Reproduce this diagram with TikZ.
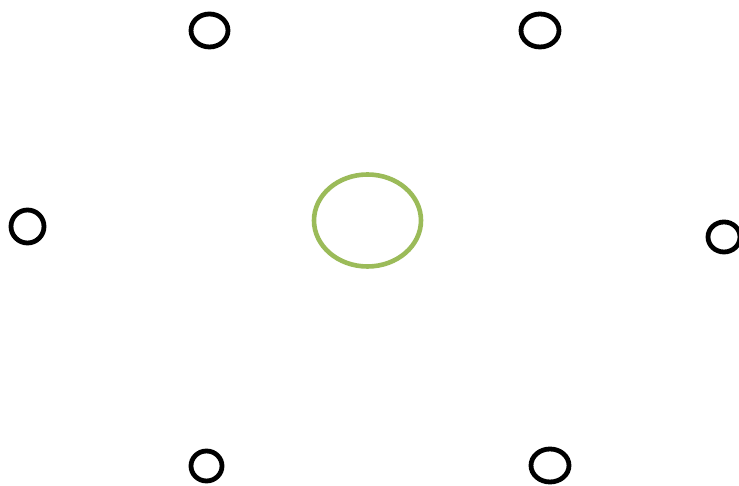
\documentclass[tikz,border=0pt]{standalone}
\usetikzlibrary{shapes.geometric}
\definecolor{ringgreen}{RGB}{155,187,89}
\begin{document}
\begin{tikzpicture}[x=1pt,y=1pt,
  ring/.style={draw=black,ellipse,line width=4.8pt,inner sep=0pt},
  hub/.style={draw=ringgreen,ellipse,line width=4.6pt,inner sep=0pt}]
\useasboundingbox (0,0) rectangle (739,486);
\node[ring,minimum width=37pt,minimum height=33pt] (tl) at (209.5,455.5) {};
\node[ring,minimum width=38pt,minimum height=33pt] (tr) at (540,455.5) {};
\node[ring,minimum width=33pt,minimum height=33pt] (l) at (27.5,259.5) {};
\node[ring,minimum width=32pt,minimum height=30pt] (r) at (724,249) {};
\node[ring,minimum width=31pt,minimum height=30pt] (bl) at (206.5,20) {};
\node[ring,minimum width=38pt,minimum height=33pt] (br) at (550,20.5) {};
\node[hub,minimum width=107pt,minimum height=92pt] (c) at (367.5,265.5) {};
\end{tikzpicture}
\end{document}
